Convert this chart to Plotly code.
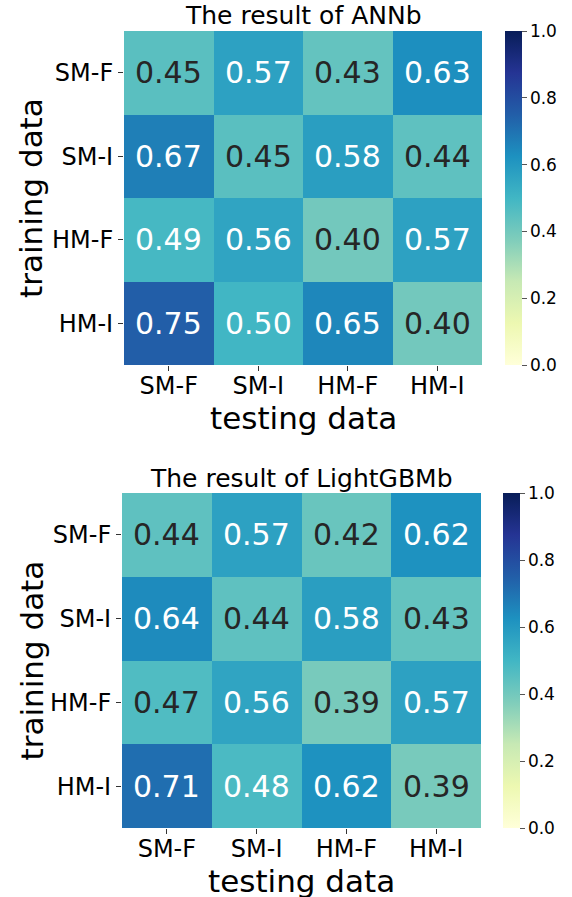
import plotly.graph_objects as go

cats = ["SM-F", "SM-I", "HM-F", "HM-I"]
titles = ["The result of ANNb", "The result of LightGBMb"]
ann_vals = [[0.45, 0.57, 0.43, 0.63],
            [0.67, 0.45, 0.58, 0.44],
            [0.49, 0.56, 0.40, 0.57],
            [0.75, 0.50, 0.65, 0.40]]
lgb_vals = [[0.44, 0.57, 0.42, 0.62],
            [0.64, 0.44, 0.58, 0.43],
            [0.47, 0.56, 0.39, 0.57],
            [0.71, 0.48, 0.62, 0.39]]
cb_ticks = [0.0, 0.2, 0.4, 0.6, 0.8, 1.0]

ylgnbu = ['rgb(255,255,217)', 'rgb(237,248,177)', 'rgb(199,233,180)', 'rgb(127,205,187)',
          'rgb(65,182,196)', 'rgb(29,145,192)', 'rgb(34,94,168)', 'rgb(37,52,148)', 'rgb(8,29,88)']
cscale = [[i / 8, c] for i, c in enumerate(ylgnbu)]

W, H = 572, 897
FONT = "DejaVu Sans"

# pixel geometry of each panel: (left, right, top, bottom)
panels = [(124, 482, 31, 365), (122, 481, 493, 828)]
cb_left = [505, 503]

fig = go.Figure()
annotations = []
for k, (vals, title) in enumerate(zip([ann_vals, lgb_vals], titles)):
    l, r, t, b = panels[k]
    xa = "x" if k == 0 else "x2"
    ya = "y" if k == 0 else "y2"
    fig.add_trace(go.Heatmap(
        z=vals, x=cats, y=cats, zmin=0, zmax=1, colorscale=cscale,
        xaxis=xa, yaxis=ya, hoverinfo="skip",
        colorbar=dict(
            x=cb_left[k] / W, xanchor="left", xref="paper", xpad=0, ypad=0,
            y=1 - (t + b) / 2 / H, yanchor="middle",
            len=(b - t), lenmode="pixels", thickness=17, thicknessmode="pixels",
            outlinewidth=0, tickvals=cb_ticks, ticktext=[f"{v:.1f}" for v in cb_ticks],
            ticks="outside", ticklen=5, tickcolor="#555", tickwidth=1,
            tickfont=dict(family=FONT, size=17, color="black"),
        ),
    ))
    for i, row in enumerate(vals):
        for j, v in enumerate(row):
            annotations.append(dict(
                x=cats[j], y=cats[i], xref=xa, yref=ya, text=f"{v:.2f}",
                showarrow=False,
                font=dict(family=FONT, size=30, color="white" if v >= 0.475 else "#262626"),
            ))
    xkey = "xaxis" if k == 0 else "xaxis2"
    ykey = "yaxis" if k == 0 else "yaxis2"
    fig.update_layout(**{
        xkey: dict(domain=[l / W, r / W], anchor=ya, showgrid=False, zeroline=False,
                   ticks="outside", ticklen=5, tickcolor="#333", ticklabelstandoff=-6,
                   tickfont=dict(family=FONT, size=24, color="black"), showline=False),
        ykey: dict(domain=[1 - b / H, 1 - t / H], anchor=xa, autorange="reversed",
                   showgrid=False, zeroline=False, ticks="outside", ticklen=5,
                   tickcolor="#333", tickfont=dict(family=FONT, size=24, color="black"),
                   showline=False),
    })
    cx = (l + r) / 2
    annotations.append(dict(x=cx / W, y=1 - (t - 15) / H, xref="paper", yref="paper",
                            text=title, showarrow=False, yanchor="middle",
                            font=dict(family=FONT, size=25, color="black")))
    annotations.append(dict(x=cx / W, y=1 - (b + 53) / H, xref="paper", yref="paper",
                            text="testing data", showarrow=False, yanchor="middle",
                            font=dict(family=FONT, size=31, color="black")))
    annotations.append(dict(x=31 / W, y=1 - (t + b) / 2 / H, xref="paper", yref="paper",
                            text="training data", showarrow=False, textangle=-90,
                            xanchor="center", yanchor="middle",
                            font=dict(family=FONT, size=31, color="black")))

fig.update_layout(width=W, height=H, margin=dict(l=0, r=0, t=0, b=0),
                  paper_bgcolor="white", plot_bgcolor="white",
                  annotations=annotations, showlegend=False)
fig.write_html("out.html")
